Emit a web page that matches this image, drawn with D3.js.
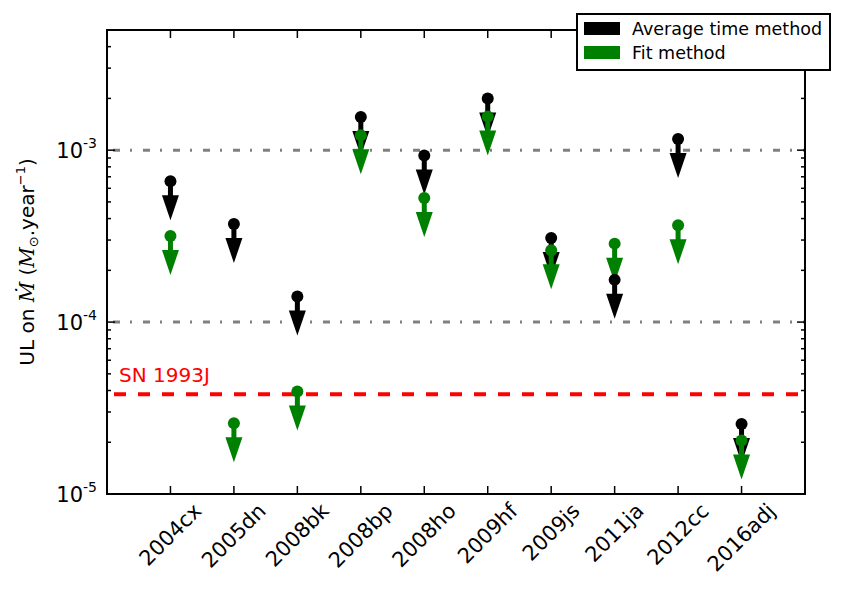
<!DOCTYPE html>
<html><head><meta charset="utf-8">
<script src="https://cdn.jsdelivr.net/npm/d3@7"></script>
<style>body{margin:0;background:#fff}svg{display:block}text{font-family:"DejaVu Sans",sans-serif}</style>
</head><body>
<svg id="c" width="846" height="593"></svg>
<script>
const categories = ["2004cx","2005dn","2008bk","2008bp","2008ho","2009hf","2009js","2011ja","2012cc","2016adj"];
const averageTime = [6.6e-4, 3.72e-4, 1.41e-4, 1.56e-3, 9.3e-4, 2.0e-3, 3.08e-4, 1.76e-4, 1.16e-3, 2.55e-5];
const fitMethod   = [3.17e-4, 2.58e-5, 3.95e-5, 1.22e-3, 5.27e-4, 1.57e-3, 2.62e-4, 2.86e-4, 3.66e-4, 2.05e-5];
const refLines = [1e-3, 1e-4];
const sn1993J = 3.8e-5;
const yMajor = [1e-5, 1e-4, 1e-3];
const yMajorExp = ["-5", "-4", "-3"];
const legendLabels = ["Average time method", "Fit method"];
const colors = ["#000000", "#008000"];

const svg = d3.select("#c");
const L = 107, R = 805, T = 30, B = 494;
const x = d3.scaleLinear().domain([0, categories.length + 1]).range([L, R]);
const y = d3.scaleLog().domain([1e-5, 5e-3]).range([B, T]);

// reference lines
refLines.forEach(v => {
  svg.append("line").attr("x1", L).attr("x2", R).attr("y1", y(v)).attr("y2", y(v))
    .attr("stroke", "#808080").attr("stroke-width", 3).attr("stroke-dasharray", "7,10,2,11")
    .attr("stroke-dashoffset", -6);
});
svg.append("line").attr("x1", L).attr("x2", R).attr("y1", y(sn1993J)).attr("y2", y(sn1993J))
  .attr("stroke", "#ff0000").attr("stroke-width", 4).attr("stroke-dasharray", "12,12").attr("stroke-dashoffset", -7);
svg.append("text").attr("x", 119).attr("y", y(sn1993J) - 12).attr("fill", "#ff0000")
  .attr("font-size", 20).text("SN 1993J");

// arrows
function arrow(g, cx, v, color) {
  const y0 = y(v);
  g.append("rect").attr("x", cx - 2.5).attr("y", y0).attr("width", 5).attr("height", 16).attr("fill", color);
  g.append("path").attr("d", `M${cx-8.5},${y0+14}L${cx+8.5},${y0+14}L${cx},${y0+39}Z`).attr("fill", color);
}
const ga = svg.append("g");
categories.forEach((c, i) => arrow(ga, x(i + 1), averageTime[i], colors[0]));
categories.forEach((c, i) => arrow(ga, x(i + 1), fitMethod[i], colors[1]));
categories.forEach((c, i) => ga.append("circle").attr("cx", x(i + 1)).attr("cy", y(averageTime[i])).attr("r", 6).attr("fill", colors[0]));
categories.forEach((c, i) => ga.append("circle").attr("cx", x(i + 1)).attr("cy", y(fitMethod[i])).attr("r", 6).attr("fill", colors[1]));

// ticks
const tg = svg.append("g").attr("stroke", "#000").attr("stroke-width", 1.5);
categories.forEach((c, i) => {
  const xx = x(i + 1);
  tg.append("line").attr("x1", xx).attr("x2", xx).attr("y1", B).attr("y2", B - 8);
  tg.append("line").attr("x1", xx).attr("x2", xx).attr("y1", T).attr("y2", T + 8);
});
const minor = [];
[1e-5, 1e-4, 1e-3].forEach(d => { for (let k = 2; k <= 9; k++) { const v = k * d; if (v <= 5e-3 + 1e-12) minor.push(v); } });
minor.forEach(v => {
  tg.append("line").attr("x1", L).attr("x2", L + 4).attr("y1", y(v)).attr("y2", y(v));
  tg.append("line").attr("x1", R).attr("x2", R - 4).attr("y1", y(v)).attr("y2", y(v));
});
yMajor.forEach(v => {
  tg.append("line").attr("x1", L).attr("x2", L + 8).attr("y1", y(v)).attr("y2", y(v));
  tg.append("line").attr("x1", R).attr("x2", R - 8).attr("y1", y(v)).attr("y2", y(v));
});

// frame
svg.append("rect").attr("x", L).attr("y", T).attr("width", R - L).attr("height", B - T)
  .attr("fill", "none").attr("stroke", "#000").attr("stroke-width", 2);

// y tick labels
yMajor.forEach((v, i) => {
  const t = svg.append("text").attr("x", 97).attr("y", y(v) + 8).attr("text-anchor", "end").attr("font-size", 21);
  t.append("tspan").text("10");
  t.append("tspan").attr("font-size", 14).attr("dy", -10).text(yMajorExp[i]);
});

// x tick labels rotated 45, centred
categories.forEach((c, i) => {
  const t = svg.append("text").attr("font-size", 21).attr("text-anchor", "middle").attr("dominant-baseline", "central").text(c);
  const len = t.node().getComputedTextLength();
  const h = 15;
  const half = (len + h) * Math.SQRT1_2 / 2;
  t.attr("transform", `translate(${x(i + 1)},${502 + half}) rotate(-45)`);
});

// y label
const yl = svg.append("text").attr("transform", "translate(34,262) rotate(-90)").attr("text-anchor", "middle").attr("font-size", 20);
yl.append("tspan").text("UL on ");
yl.append("tspan").attr("font-family", "DejaVu Serif").attr("font-style", "italic").text("Ṁ");
yl.append("tspan").text(" (");
yl.append("tspan").attr("font-family", "DejaVu Serif").attr("font-style", "italic").text("M");
yl.append("tspan").attr("font-size", 13).attr("dy", 4).text("⊙");
yl.append("tspan").attr("dy", -4).text(".year");
yl.append("tspan").attr("font-size", 13).attr("dy", -9).text("−1");
yl.append("tspan").attr("dy", 9).text(")");

// legend
const lg = svg.append("g");
lg.append("rect").attr("x", 577).attr("y", 14).attr("width", 253).attr("height", 56)
  .attr("fill", "#fff").attr("stroke", "#000").attr("stroke-width", 2);
legendLabels.forEach((lab, i) => {
  lg.append("rect").attr("x", 584).attr("y", 22 + i * 24).attr("width", 36).attr("height", 13).attr("fill", colors[i]);
  lg.append("text").attr("x", 632).attr("y", 35 + i * 24).attr("font-size", 17.5).text(lab);
});
</script>
</body></html>
